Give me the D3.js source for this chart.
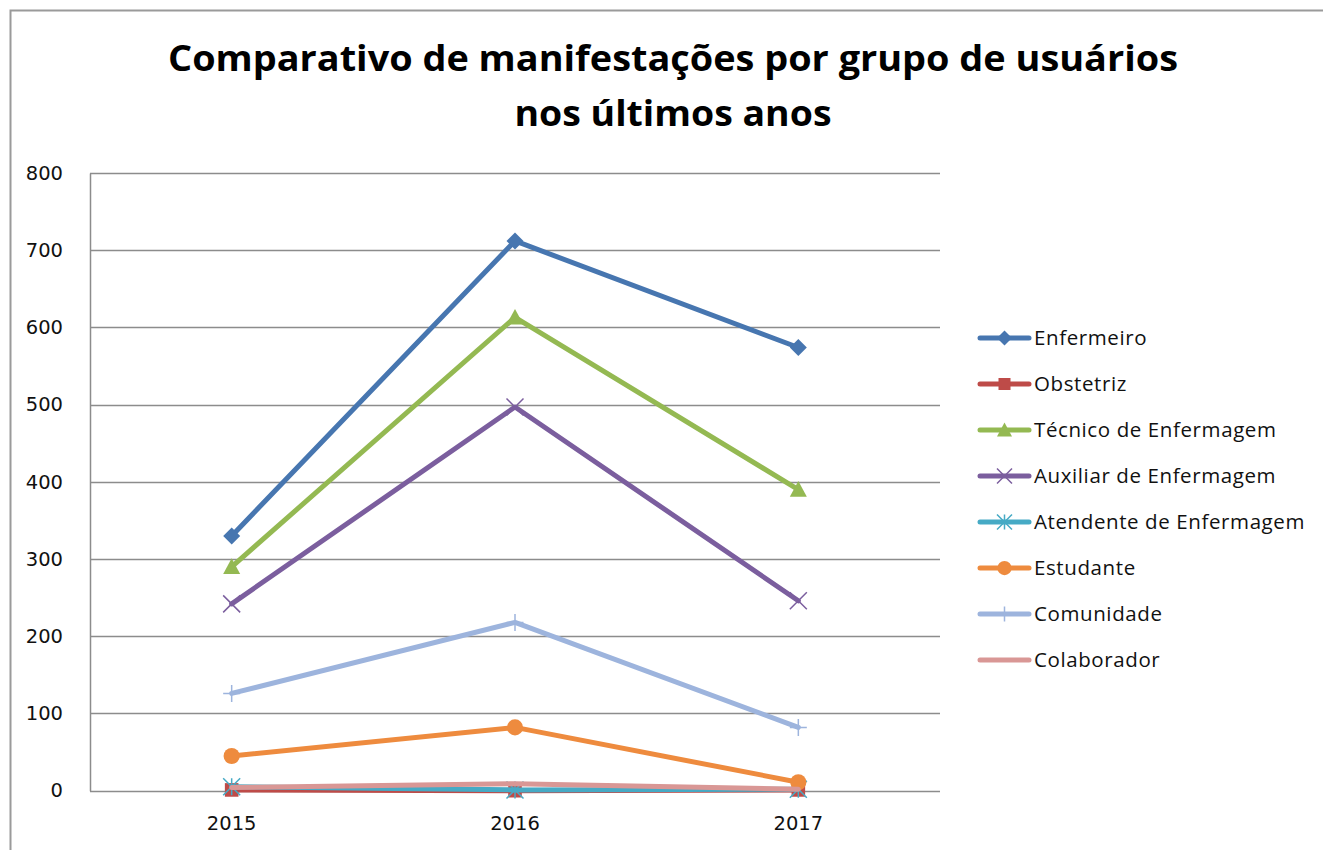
<!DOCTYPE html>
<html>
<head>
<meta charset="utf-8">
<script src="https://cdn.jsdelivr.net/npm/d3@7"></script>
<style>
  body { margin: 0; background: #fff; }
  svg { display: block; }
</style>
</head>
<body>
<div id="chart"></div>
<script>
// chart size and plot area
const width = 1323;
const height = 850;
const margin = { top: 173, right: 383, bottom: 60, left: 90 };

// data
const years = ["2015", "2016", "2017"];
const seriesNames = ["Enfermeiro", "Obstetriz", "Técnico de Enfermagem", "Auxiliar de Enfermagem",
  "Atendente de Enfermagem", "Estudante", "Comunidade", "Colaborador"];
const enfermeiro = [330, 712, 574];
const obstetriz = [1, 0, 1];
const tecnico = [290, 613, 390];
const auxiliar = [242, 497, 246];
const atendente = [5, 1, 2];
const estudante = [45, 82, 11];
const comunidade = [126, 218, 82];
const colaborador = [4, 9, 2];
const yTicks = [0, 100, 200, 300, 400, 500, 600, 700, 800];

const colors = ["#4776B0", "#BE4B48", "#94B952", "#7B5E9E", "#46AAC5", "#EE8B3E", "#9DB4DD", "#D99795"];
const symbols = ["diamond", "square", "triangle", "x", "star", "circle", "plus", "none"];

const series = seriesNames.map((name, i) => ({
  name,
  color: colors[i],
  symbol: symbols[i],
  values: [enfermeiro, obstetriz, tecnico, auxiliar, atendente, estudante, comunidade, colaborador][i]
}));

const svg = d3.select("#chart")
  .append("svg")
  .attr("width", width)
  .attr("height", height);

// outer chart frame (only top and left edges visible in the crop)
svg.append("path")
  .attr("d", `M10.5,${height} V10.5 H${width}`)
  .attr("fill", "none")
  .attr("stroke", "#9a9a9a")
  .attr("stroke-width", 2);

// title
const title = svg.append("text")
  .attr("text-anchor", "middle")
  .attr("font-family", "'Open Sans', Lato, sans-serif")
  .attr("font-weight", "bold")
  .attr("font-size", 36)
  .attr("fill", "#000");
title.append("tspan").attr("x", 673).attr("y", 71)
  .attr("textLength", 1010).attr("lengthAdjust", "spacingAndGlyphs")
  .text("Comparativo de manifestações por grupo de usuários");
title.append("tspan").attr("x", 673).attr("y", 126)
  .attr("textLength", 317).attr("lengthAdjust", "spacingAndGlyphs")
  .text("nos últimos anos");

// scales
const x = d3.scaleBand()
  .domain(years)
  .range([margin.left, width - margin.right]);

const y = d3.scaleLinear()
  .domain([0, 800])
  .range([height - margin.bottom + 0.7, margin.top]);

const cx = d => x(d) + x.bandwidth() / 2;

// gridlines
svg.append("g")
  .selectAll("line")
  .data(yTicks)
  .join("line")
  .attr("x1", margin.left)
  .attr("x2", width - margin.right)
  .attr("y1", d => Math.round(y(d)) + 0.5)
  .attr("y2", d => Math.round(y(d)) + 0.5)
  .attr("stroke", "#8c8c8c")
  .attr("stroke-width", 1.5);

// y axis
const yAxis = svg.append("g")
  .attr("transform", `translate(${margin.left}, 0)`)
  .call(d3.axisLeft(y).tickValues(yTicks).tickSize(0).tickPadding(27));
yAxis.select(".domain").attr("stroke", "#8c8c8c").attr("stroke-width", 1.5);
yAxis.selectAll("text")
  .attr("font-family", "'DejaVu Sans', Verdana, sans-serif")
  .attr("font-size", 19.5)
  .attr("fill", "#111");

// x axis
const xAxis = svg.append("g")
  .attr("transform", `translate(0, ${y(0)})`)
  .call(d3.axisBottom(x).tickSize(0).tickPadding(25));
xAxis.select(".domain").remove();
xAxis.selectAll("text")
  .attr("font-family", "'DejaVu Sans', Verdana, sans-serif")
  .attr("font-size", 19.5)
  .attr("fill", "#111");

// marker drawing
function marker(sel, symbol, color, s) {
  if (symbol === "diamond") {
    sel.append("path").attr("d", `M0,${-s}L${s},0L0,${s}L${-s},0Z`).attr("fill", color);
  } else if (symbol === "square") {
    sel.append("rect").attr("x", -s * 0.8).attr("y", -s * 0.8).attr("width", s * 1.6).attr("height", s * 1.6).attr("fill", color);
  } else if (symbol === "triangle") {
    sel.append("path").attr("d", `M0,${-s}L${s},${s * 0.85}L${-s},${s * 0.85}Z`).attr("fill", color);
  } else if (symbol === "x") {
    sel.append("path").attr("d", `M${-s},${-s}L${s},${s}M${s},${-s}L${-s},${s}`).attr("stroke", color).attr("stroke-width", 1.5);
  } else if (symbol === "star") {
    sel.append("path").attr("d", `M${-s},${-s}L${s},${s}M${s},${-s}L${-s},${s}M0,${-s}V${s}`).attr("stroke", color).attr("stroke-width", 1.5);
  } else if (symbol === "circle") {
    sel.append("circle").attr("r", s * 0.95).attr("fill", color);
  } else if (symbol === "plus") {
    sel.append("path").attr("d", `M${-s},0H${s}M0,${-s}V${s}`).attr("stroke", color).attr("stroke-width", 1.5);
  }
}

const line = d3.line()
  .x((d, i) => cx(years[i]))
  .y(d => y(d));

// series lines and markers
series.forEach(s => {
  const g = svg.append("g");
  g.append("path")
    .attr("d", line(s.values))
    .attr("fill", "none")
    .attr("stroke", s.color)
    .attr("stroke-width", 5)
    .attr("stroke-linejoin", "round")
    .attr("stroke-linecap", "round");
  s.values.forEach((v, i) => {
    const m = g.append("g").attr("transform", `translate(${cx(years[i])},${y(v)})`);
    marker(m, s.symbol, s.color, 8.5);
  });
});

// legend
const legend = svg.append("g");
series.forEach((s, i) => {
  const ly = 338 + i * 46;
  const row = legend.append("g");
  row.append("line")
    .attr("x1", 980).attr("x2", 1029)
    .attr("y1", ly).attr("y2", ly)
    .attr("stroke", s.color)
    .attr("stroke-width", 5)
    .attr("stroke-linecap", "round");
  const m = row.append("g").attr("transform", `translate(1004.5,${ly})`);
  marker(m, s.symbol, s.color, 7.5);
  row.append("text")
    .attr("x", 1034)
    .attr("y", ly + 7)
    .attr("font-family", "'Open Sans', Lato, sans-serif")
    .attr("font-size", 20.5)
    .attr("letter-spacing", 0.6)
    .attr("fill", "#111")
    .text(s.name);
});
</script>
</body>
</html>
